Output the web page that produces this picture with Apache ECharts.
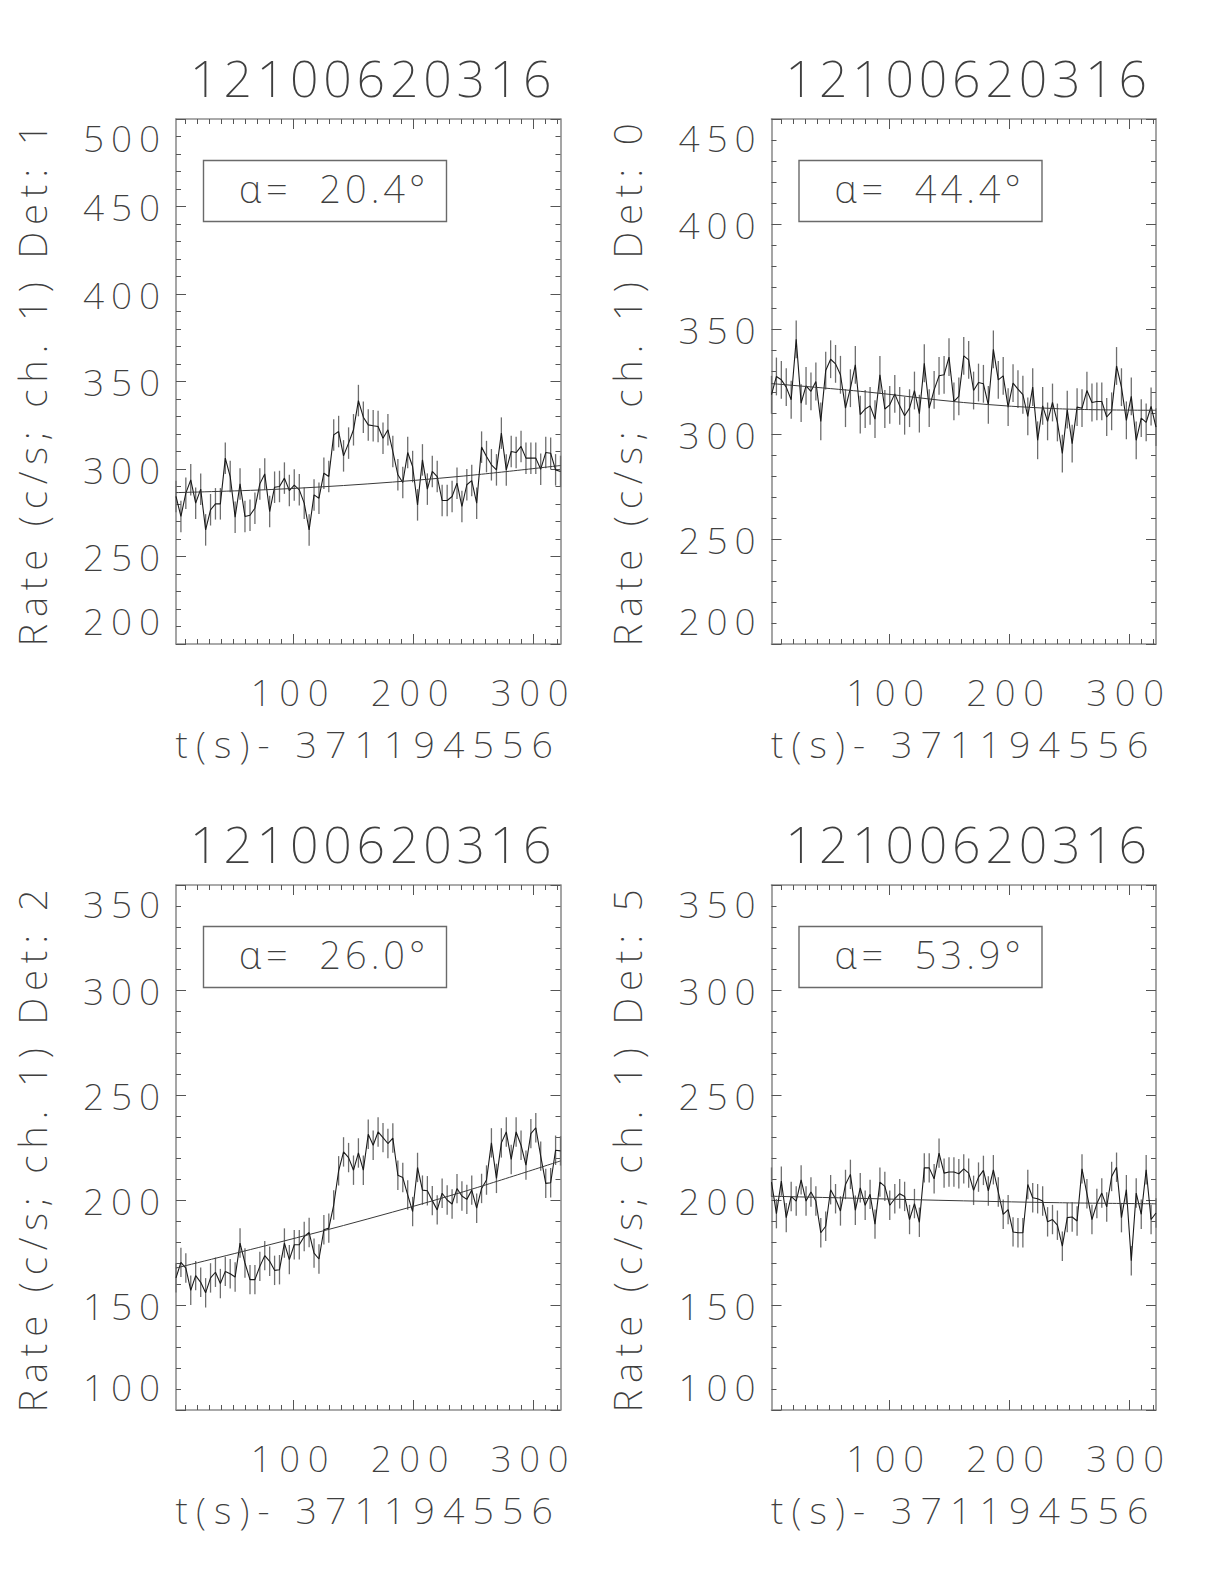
<!DOCTYPE html>
<html><head><meta charset="utf-8">
<script src="https://cdn.jsdelivr.net/npm/echarts@6/dist/echarts.min.js"></script>
<style>html,body{margin:0;padding:0;background:#fff}#c{width:1224px;height:1584px}</style>
<style id="sp"></style>
</head><body><div id="c"></div>
<script>
// ---------- data ----------
const times = [2.0,6.1,10.2,14.3,18.4,22.6,26.7,30.8,34.9,39.0,
43.1,47.2,51.3,55.4,59.5,63.7,67.8,71.9,76.0,80.1,
84.2,88.3,92.4,96.5,100.6,104.8,108.9,113.0,117.1,121.2,
125.3,129.4,133.5,137.6,141.7,145.9,150.0,154.1,158.2,162.3,
166.4,170.5,174.6,178.7,182.8,187.0,191.1,195.2,199.3,203.4,
207.5,211.6,215.7,219.8,223.9,228.1,232.2,236.3,240.4,244.5,
248.6,252.7,256.8,260.9,265.0,269.2,273.3,277.4,281.5,285.6,
289.7,293.8,297.9,302.0,306.1,310.3,314.4,318.5,322.6];

const rateDet1 = [284.3,272.9,286.2,293.8,280.5,288.5,265.2,276.7,280.1,280.1,
306.2,295.7,272.5,291.5,272.9,273.6,277.6,291.5,297.2,275.7,
289.6,290.0,294.8,287.7,290.8,288.1,280.5,265.2,285.2,283.3,
297.6,295.7,319.5,321.4,307.5,314.8,322.4,339.1,329.6,325.2,
324.7,324.3,317.6,322.4,310.0,296.7,292.3,309.4,301.4,279.5,
305.2,288.5,298.6,295.7,282.0,282.0,284.3,291.9,278.6,291.0,
293.4,280.5,312.5,307.1,302.4,299.5,320.5,299.5,310.0,309.4,
312.9,306.2,306.2,306.2,299.9,309.4,309.0,299.5,298.6];

const rateDet0 = [318.7,327.4,325.8,322.3,316.3,345.1,314.7,322.9,320.3,325.0,
306.0,330.2,335.6,333.4,328.2,312.3,321.8,332.9,309.2,311.9,
313.4,307.1,328.2,311.9,313.9,319.1,313.4,308.7,312.3,320.7,
309.7,333.7,312.3,321.0,327.7,328.2,336.6,315.5,317.9,337.2,
335.3,320.7,324.5,323.9,313.9,340.3,325.8,327.7,312.8,324.2,
321.4,318.7,308.4,322.3,297.0,313.4,306.0,315.0,305.5,290.7,
311.6,295.4,312.8,312.3,320.7,315.0,315.5,315.5,308.1,310.8,
332.4,322.3,306.5,317.9,297.0,307.6,305.5,313.1,303.3];

const rateDet2 = [162.9,170.3,167.6,157.0,164.0,160.8,155.8,162.9,165.6,160.2,
166.0,164.9,163.3,179.5,170.0,162.1,162.1,168.4,173.5,170.8,
166.5,166.8,179.5,171.6,178.7,178.7,182.6,184.5,174.7,171.9,
185.8,186.6,197.6,213.9,222.9,220.2,214.2,222.4,214.2,231.3,
226.1,232.4,229.7,226.9,229.5,211.8,210.7,202.4,194.5,215.5,
204.7,204.4,199.7,195.3,203.2,200.0,198.1,205.4,201.9,200.3,
204.7,196.1,205.5,209.5,227.2,210.3,227.2,232.4,219.3,232.4,
226.1,216.6,231.6,234.4,220.9,207.9,208.2,223.7,223.4];

const rateDet5 = [208.5,193.5,209.0,191.6,201.7,199.5,209.6,199.5,203.8,199.5,
184.4,187.5,204.9,200.6,194.8,207.4,212.2,195.1,205.8,197.5,
202.7,188.5,208.5,206.5,197.5,200.6,203.0,201.7,190.7,198.3,
189.4,215.3,215.3,210.1,222.3,212.8,213.3,213.3,212.5,214.8,
212.8,204.6,210.9,214.1,204.3,214.4,203.8,193.2,195.4,184.8,
184.4,184.4,207.4,201.1,200.6,199.5,189.6,190.7,188.0,178.0,
191.6,191.9,190.0,214.8,203.0,190.7,198.3,203.3,196.7,211.2,
215.6,191.6,204.9,171.1,203.3,193.2,214.4,190.7,193.8];

// background fit curves (sampled)
const fitTimes = [2.0, 82.0, 162.0, 242.0, 322.6];
const fitDet1 = [286.5, 288.3, 291.5, 296.0, 302.0];
const fitDet0 = [324.0, 320.0, 315.0, 312.0, 311.3];
const fitDet2 = [167.6, 179.0, 191.0, 204.0, 218.6];
const fitDet5 = [201.8, 200.7, 199.6, 198.7, 198.2];

// half length of error bars (c/s)
const errHalf = [9, 9, 7, 7];

const panelTitle = '12100620316';
const detLabels = ['1', '0', '2', '5'];
const alphaLabels = ['20.4', '44.4', '26.0', '53.9'];
const yMin = [200, 200, 100, 100];
const yMax = [500, 450, 350, 350];
const xMajorTicks = [100, 200, 300];
const xMinorTicks = [10,20,30,40,50,60,70,80,90,100,110,120,130,140,150,160,170,180,190,200,210,220,230,240,250,260,270,280,290,300,310,320];
const xName = 't(s)- 371194556';

// ---------- text classes (font + target ink width in px) ----------
const FAM = "'Noto Sans'";
const FW = 200;
const TXT = '#3f3f3f';
const TC = {
  title: {size: 50, sample: panelTitle, target: 355},
  ytick: {size: 37, sample: '450', target: 75},
  xtick: {size: 36.5, sample: '200', target: 74},
  box:   {size: 38, sample: '\u03b1=  20.4\u00b0', target: 182},
  yname: {size: 38.5, sample: 'Rate (c/s; ch. 1) Det: 1', target: 511},
  xname: {size: 37.5, sample: xName, target: 376}
};
const mctx = document.createElement('canvas').getContext('2d');
let css = '';
for (const key in TC) {
  const c = TC[key];
  mctx.font = FW + ' ' + c.size + 'px ' + FAM;
  const m = mctx.measureText(c.sample);
  const ink = m.actualBoundingBoxLeft + m.actualBoundingBoxRight;
  c.sp = Math.max(0, (c.target - ink) / (c.sample.length - 1));
  css += '#c svg text[style*="' + c.size + 'px"]{letter-spacing:' + c.sp.toFixed(2) + 'px !important}\n';
}
document.getElementById('sp').textContent = css;
function ts(c) { return {fontSize: c.size, fontFamily: FAM, fontWeight: FW, color: TXT}; }

// ---------- layout / style ----------
const rates = [rateDet1, rateDet0, rateDet2, rateDet5];
const fits = [fitDet1, fitDet0, fitDet2, fitDet5];
const gridPos = [[176, 119], [771.5, 119], [176, 885], [771.5, 885]];
const GW = 384.5, GH = 525;
const XMIN = 2, XMAX = 322.6;
const AX = '#8f8f8f';
const TICK = '#555';

const grid = [], xAxis = [], yAxis = [], series = [], title = [], graphic = [];

for (let k = 0; k < 4; k++) {
  const [gl, gt] = gridPos[k];
  grid.push({left: gl, top: gt, width: GW, height: GH, containLabel: false, outerBoundsMode: 'none'});

  const baseX = {gridIndex: k, type: 'value', min: XMIN, max: XMAX, splitLine: {show: false}, minorSplitLine: {show: false}};
  xAxis.push(Object.assign({}, baseX, {
    position: 'bottom',
    axisLine: {show: true, onZero: false, lineStyle: {color: AX, width: 1.6}},
    axisTick: {show: true, inside: true, length: 10, customValues: xMajorTicks, lineStyle: {color: TICK, width: 1}},
    axisLabel: Object.assign({show: true, customValues: xMajorTicks, margin: 29}, ts(TC.xtick)),
    name: xName, nameLocation: 'middle', nameGap: 80,
    nameTextStyle: ts(TC.xname)
  }));
  xAxis.push(Object.assign({}, baseX, {
    position: 'bottom', axisLine: {show: false},
    axisTick: {show: true, inside: true, length: 5, customValues: xMinorTicks, lineStyle: {color: TICK, width: 1}},
    axisLabel: {show: false}
  }));
  xAxis.push(Object.assign({}, baseX, {
    position: 'top',
    axisLine: {show: true, onZero: false, lineStyle: {color: AX, width: 1.6}},
    axisTick: {show: true, inside: true, length: 10, customValues: xMajorTicks, lineStyle: {color: TICK, width: 1}},
    axisLabel: {show: false}
  }));
  xAxis.push(Object.assign({}, baseX, {
    position: 'top', axisLine: {show: false},
    axisTick: {show: true, inside: true, length: 5, customValues: xMinorTicks, lineStyle: {color: TICK, width: 1}},
    axisLabel: {show: false}
  }));

  const baseY = {gridIndex: k, type: 'value', min: yMin[k], max: yMax[k], interval: 50,
    splitLine: {show: false}, minorSplitLine: {show: false},
    axisLine: {show: true, onZero: false, lineStyle: {color: AX, width: 1.6}},
    axisTick: {show: true, inside: true, length: 10, lineStyle: {color: TICK, width: 1}},
    minorTick: {show: true, splitNumber: 5, length: 5, lineStyle: {color: TICK, width: 1}}};
  yAxis.push(Object.assign({}, baseY, {
    position: 'left',
    axisLabel: Object.assign({show: true, margin: 16 - TC.ytick.sp, padding: [0, 0, 5, 0],
      verticalAlignMinLabel: 'bottom', verticalAlignMaxLabel: 'top'}, ts(TC.ytick)),
    name: 'Rate (c/s; ch. 1) Det: ' + detLabels[k], nameLocation: 'middle', nameGap: 125, nameRotate: 90,
    nameTextStyle: ts(TC.yname)
  }));
  yAxis.push(Object.assign({}, baseY, {position: 'right', axisLabel: {show: false}}));

  title.push({text: panelTitle, left: gl + GW / 2 + 5, top: gt - 66, textAlign: 'center', padding: 0,
    textStyle: ts(TC.title)});

  const xi = 4 * k, yi = 2 * k;
  const err = errHalf[k];
  series.push({
    type: 'custom', xAxisIndex: xi, yAxisIndex: yi, z: 2, silent: true,
    data: times.map((t, i) => [t, rates[k][i], err]),
    encode: {x: 0, y: 1},
    renderItem: function (params, api) {
      const t = api.value(0), v = api.value(1), e = api.value(2);
      const a = api.coord([t, v - e]), b = api.coord([t, v + e]);
      return {type: 'line', shape: {x1: a[0], y1: a[1], x2: b[0], y2: b[1]},
        style: {stroke: '#6e6e6e', lineWidth: 1.3}};
    }
  });
  series.push({
    type: 'line', xAxisIndex: xi, yAxisIndex: yi, z: 3, symbol: 'none', showSymbol: false,
    data: times.map((t, i) => [t, rates[k][i]]),
    lineStyle: {color: '#1a1a1a', width: 1.1}
  });
  series.push({
    type: 'line', xAxisIndex: xi, yAxisIndex: yi, z: 4, symbol: 'none', showSymbol: false, smooth: 0.35,
    data: fitTimes.map((t, i) => [t, fits[k][i]]),
    lineStyle: {color: '#3a3a3a', width: 1}
  });

  graphic.push({type: 'rect', left: gl + 25, top: gt + 39, shape: {width: 243, height: 61},
    style: {fill: null, stroke: '#6a6a6a', lineWidth: 1.4}, silent: true});
  const bs = TC.box;
  graphic.push({type: 'text', x: gl + 63, y: gt + 69, silent: true,
    style: {text: '\u03b1=  ' + alphaLabels[k] + '\u00b0', fontSize: bs.size, fontFamily: FAM, fontWeight: FW,
      fill: TXT, align: 'left', verticalAlign: 'middle'}});
}

const chart = echarts.init(document.getElementById('c'), null, {renderer: 'svg', width: 1224, height: 1584});
chart.setOption({
  animation: false,
  backgroundColor: '#ffffff',
  title: title,
  grid: grid,
  xAxis: xAxis,
  yAxis: yAxis,
  series: series,
  graphic: graphic
});
</script>
</body></html>
